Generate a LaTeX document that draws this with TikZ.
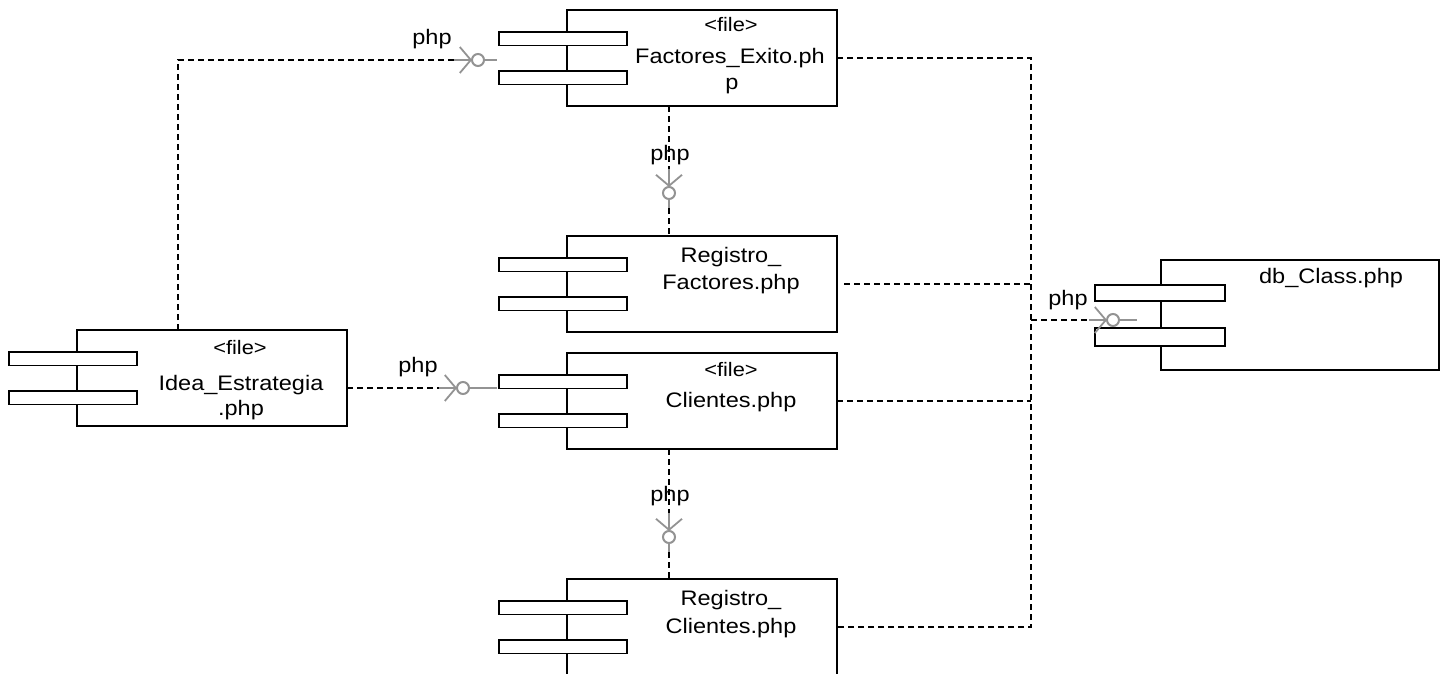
\documentclass[tikz,border=0pt]{standalone}
\usepackage{fontspec}
\setmainfont{Liberation Sans}[FakeStretch=1.12]
\usetikzlibrary{arrows.meta}

% a UML component: main box plus the two port tabs on its left side
\newcommand\umlcomp[3]{%
  \node[compbox, anchor=north west] (#1) at (#2,#3) {};
  \node[portbox, anchor=north west] (#1-a) at ([xshift=-68pt,yshift=-22pt]#1.north west) {};
  \node[portbox, anchor=north west] (#1-b) at ([xshift=-68pt,yshift=-61pt]#1.north west) {};
}

\begin{document}
\begin{tikzpicture}[x=1pt,y=-1pt,
  compbox/.style={draw, line width=1.9pt, fill=white, inner sep=0pt, outer sep=0pt,
    minimum width=270pt, minimum height=96pt},
  portbox/.style={draw, line width=1.9pt, fill=white, inner sep=0pt, outer sep=0pt,
    minimum width=128pt, minimum height=13.5pt},
  dep/.style={line width=1.7pt, dash pattern=on 6pt off 4pt},
  iface/.style={draw=gray!85, line width=2pt},
  ifarrow/.style={gray!85, line width=1.8pt, -{Straight Barb[length=11pt,width=26pt]}},
  txt/.style={font=\fontsize{21}{25}\selectfont, inner sep=0pt, anchor=base},
  ster/.style={font=\fontsize{19.5}{23}\selectfont, inner sep=0pt, anchor=base}
]
\useasboundingbox (0,0) rectangle (1447,674);

% ---- components ----
\umlcomp{fe}{567}{10}
\umlcomp{rf}{567}{236}
\umlcomp{ie}{77}{330}
\umlcomp{cl}{567}{353}
\umlcomp{rc}{567}{579}

\node[compbox, minimum width=278pt, minimum height=110pt, anchor=north west] (db) at (1161,260) {};
\node[portbox, minimum width=130pt, minimum height=16pt, anchor=north west] (db-a) at ([xshift=-66pt,yshift=-25pt]db.north west) {};
\node[portbox, minimum width=130pt, minimum height=18pt, anchor=north west] (db-b) at ([xshift=-66pt,yshift=-68pt]db.north west) {};

% ---- component texts ----
\node[ster] (fe-s) at (731,32) {<file>};
\node[txt] (fe-t1) at (730,64) {Factores\_Exito.ph};
\node[txt] (fe-t2) at (732,90) {p};

\node[txt] (rf-t1) at (731,262) {Registro\_};
\node[txt] (rf-t2) at (731,289) {Factores.php};

\node[ster] (ie-s) at (240,354) {<file>};
\node[txt] (ie-t1) at (241,390) {Idea\_Estrategia};
\node[txt] (ie-t2) at (241,415) {.php};

\node[ster] (cl-s) at (731,376) {<file>};
\node[txt] (cl-t1) at (731,407) {Clientes.php};

\node[txt] (rc-t1) at (731,605) {Registro\_};
\node[txt] (rc-t2) at (731,633) {Clientes.php};

\node[txt] (db-t1) at (1331,283) {db\_Class.php};

% ---- interface points (lollipops) ----
\coordinate (i1) at (478,60);
\coordinate (i2) at (669,193);
\coordinate (i3) at (463,388);
\coordinate (i4) at (669,537);
\coordinate (i5) at (1113,320);

% Idea_Estrategia -> Factores_Exito
\coordinate (ie-top) at ([xshift=-34pt]ie.north);
\draw[dep] (ie-top) |- ([xshift=-24pt]i1);
\draw[ifarrow] ([xshift=-24pt]i1) -- ([xshift=-6pt]i1);
\draw[iface] (i1) circle[radius=6pt];
\draw[iface] ([xshift=6pt]i1) -- ([xshift=-2pt]i1 -| fe-a.west);
\node[txt] (l1) at (432,45) {php};

% Factores_Exito -> Registro_Factores
\draw[dep] (fe.south west -| i2) -- ([yshift=24pt]i2);
\draw[ifarrow] ([yshift=24pt]i2) -- ([yshift=6pt]i2);
\draw[iface] (i2) circle[radius=6pt];
\draw[iface] ([yshift=-6pt]i2) -- ([yshift=-15pt]i2);
\draw[dep] ([yshift=-15pt]i2) -- (rf.north west -| i2);
\node[txt] (l2) at (670,160) {php};

% Idea_Estrategia -> Clientes
\draw[dep] (ie.east |- i3) -- ([xshift=-24pt]i3);
\draw[ifarrow] ([xshift=-24pt]i3) -- ([xshift=-6pt]i3);
\draw[iface] (i3) circle[radius=6pt];
\draw[iface] ([xshift=6pt]i3) -- ([xshift=-2pt]i3 -| cl-a.west);
\node[txt] (l3) at (418,372) {php};

% Clientes -> Registro_Clientes
\draw[dep] (cl.south west -| i4) -- ([yshift=24pt]i4);
\draw[ifarrow] ([yshift=24pt]i4) -- ([yshift=6pt]i4);
\draw[iface] (i4) circle[radius=6pt];
\draw[iface] ([yshift=-6pt]i4) -- ([yshift=-15pt]i4);
\draw[dep] ([yshift=-15pt]i4) -- (rc.north west -| i4);
\node[txt] (l4) at (670,501) {php};

% everything on the right -> db_Class
\coordinate (bus) at (1031,320);
\draw[dep] (fe.east) -- (fe.east -| bus) -- (rc.east -| bus) -- (rc.east);
\draw[dep, shorten <=7pt] (rf.east) -- (rf.east -| bus);
\draw[dep] (cl.east) -- (cl.east -| bus);
\draw[dep] (bus) -- ([xshift=-24pt]i5);
\draw[ifarrow] ([xshift=-24pt]i5) -- ([xshift=-6pt]i5);
\draw[iface] (i5) circle[radius=6pt];
\draw[iface] ([xshift=6pt]i5) -- ([xshift=24pt]i5);
\node[txt] (l5) at (1068,305) {php};
\end{tikzpicture}
\end{document}
